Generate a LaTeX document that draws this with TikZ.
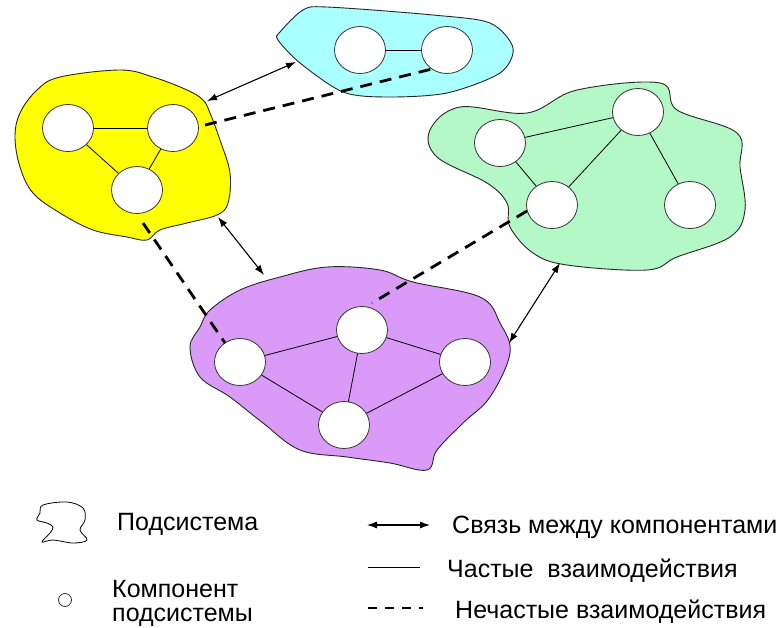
\documentclass[tikz,border=0pt]{standalone}
\usepackage{fontspec}
\setmainfont{Liberation Sans}
\usetikzlibrary{shapes.geometric,arrows.meta}
\definecolor{blobY}{RGB}{255,255,0}
\definecolor{blobC}{RGB}{170,255,255}
\definecolor{blobG}{RGB}{180,248,200}
\definecolor{blobP}{RGB}{218,155,248}
\begin{document}
\begin{tikzpicture}[x=1pt,y=-1pt,
 comp/.style={ellipse,draw=black!80,fill=white,line width=0.8pt,minimum width=51pt,minimum height=47pt,inner sep=0pt},
 link/.style={line width=0.8pt},
 rare/.style={line width=2.8pt,dash pattern=on 12pt off 8pt},
 tie/.style={line width=1.1pt,{Latex[length=10pt,width=7pt]}-{Latex[length=10pt,width=7pt]}},
 blob/.style={draw=black!85,line width=0.9pt},
 lbl/.style={font=\fontsize{25}{24}\selectfont,anchor=base west,inner sep=0pt}]
\useasboundingbox (0,0) rectangle (784,627);
% subsystems
\path[blob,fill=blobY] plot[smooth cycle,tension=0.6] coordinates {(60,77) (120,70) (153,77) (187,90) (203,100) (210,113) (220,140) (230,173) (228,203) (217,215) (187,223) (160,230) (147,240) (127,237) (93,230) (60,213) (33,193) (20,167) (15,137) (20,113) (37,90)};
\path[blob,fill=blobC] plot[smooth cycle,tension=0.5] coordinates {(280,32) (303,10) (327,7) (433,15) (490,23) (513,48) (500,73) (447,93) (387,97) (343,92) (300,63) (278,40)};
\path[blob,fill=blobG] plot[smooth cycle,tension=0.6] coordinates {(430,130) (460,107) (527,113) (577,90) (660,83) (677,110) (737,133) (740,167) (745,210) (730,237) (677,257) (647,270) (567,265) (533,253) (510,227) (507,203) (487,183) (437,157)};
\path[blob,fill=blobP] plot[smooth cycle,tension=0.6] coordinates {(210,310) (240,290) (280,277) (327,267) (380,270) (413,282) (480,297) (500,323) (510,353) (490,397) (463,423) (437,450) (427,470) (390,463) (347,457) (300,450) (263,423) (230,397) (200,377) (190,347) (200,327)};
% components
\node[comp] (y1) at (68,128) {};
\node[comp] (y2) at (173,128) {};
\node[comp] (y3) at (137,190) {};
\node[comp] (c1) at (360,50) {};
\node[comp] (c2) at (447,50) {};
\node[comp] (g1) at (500,143) {};
\node[comp] (g2) at (638,112) {};
\node[comp] (g3) at (552,205) {};
\node[comp] (g4) at (690,205) {};
\node[comp] (p1) at (240,362) {};
\node[comp] (p2) at (362,330) {};
\node[comp] (p3) at (465,362) {};
\node[comp] (p4) at (344,425) {};
% frequent interactions
\draw[link] (y1) -- (y2);
\draw[link] (y1) -- (y3);
\draw[link] (y2) -- (y3);
\draw[link] (c1) -- (c2);
\draw[link] (g1) -- (g2);
\draw[link] (g1) -- (g3);
\draw[link] (g3) -- (g2);
\draw[link] (g2) -- (g4);
\draw[link] (p1) -- (p2);
\draw[link] (p2) -- (p3);
\draw[link] (p1) -- (p4);
\draw[link] (p2) -- (p4);
\draw[link] (p3) -- (p4);
% connector end points
\coordinate (d1a) at (205,125);
\coordinate (d1b) at (432,69);
\coordinate (d2a) at (143,223);
\coordinate (d2b) at (225,343);
\coordinate (d3a) at (527,211);
\coordinate (d3b) at (372,303);
\coordinate (a1a) at (207,101);
\coordinate (a1b) at (296,62);
\coordinate (a2a) at (218,217);
\coordinate (a2b) at (264,275);
\coordinate (a3a) at (560,263);
\coordinate (a3b) at (509,343);
% rare interactions
\draw[rare] (d1a) -- (d1b);
\draw[rare] (d2a) -- (d2b);
\draw[rare] (d3a) -- (d3b);
% links between subsystems
\draw[tie] (a1a) -- (a1b);
\draw[tie] (a2a) -- (a2b);
\draw[tie] (a3a) -- (a3b);
% legend
\draw[line width=0.8pt] plot[smooth cycle,tension=0.6] coordinates {(43,505) (67,502) (83,508) (85,520) (80,530) (87,540) (73,543) (53,540) (42,542) (50,533) (53,527) (47,523) (37,520) (40,513)};
\node[draw=black!80,line width=0.8pt,circle,minimum size=13pt,inner sep=0pt] (lc) at (65,600) {};
\node[lbl] (t1) at (117,530) {Подсистема};
\node[lbl,align=left,anchor=base west] (t2) at (112,621) {Компонент\\подсистемы};
\coordinate (la1) at (367,525);
\coordinate (la2) at (430,525);
\coordinate (ls1) at (368,567);
\coordinate (ls2) at (420,567);
\coordinate (ld1) at (368,608);
\coordinate (ld2) at (423,608);
\draw[tie] (la1) -- (la2);
\draw[link] (ls1) -- (ls2);
\draw[line width=2.4pt,dash pattern=on 9pt off 8pt] (ld1) -- (ld2);
\node[lbl] (t3) at (452,533) {Связь между компонентами};
\node[lbl] (t4) at (447,577) {Частые\ \ взаимодействия};
\node[lbl] (t5) at (455,618) {Нечастые взаимодействия};
\end{tikzpicture}
\end{document}
